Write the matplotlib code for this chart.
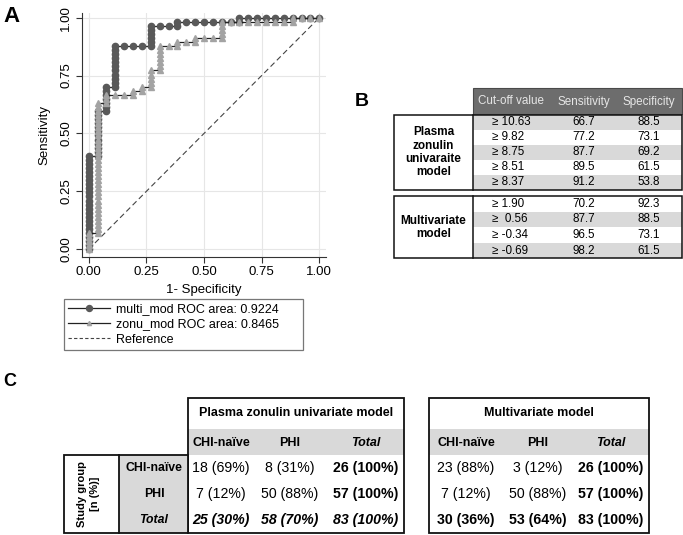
import numpy as np
import matplotlib
matplotlib.use("Agg")
import matplotlib.pyplot as plt
from matplotlib.lines import Line2D
from matplotlib.patches import Rectangle
from matplotlib.ticker import FormatStrFormatter

plt.rcParams["font.family"] = ["Liberation Sans", "DejaVu Sans"]

# ---- panel A: ROC points, true-positive counts per false-positive count ----
n_neg, n_pos = 26, 57
multi_tp_cols = [
    [0, 1, 2, 3, 4, 5, 6, 7, 8, 9, 10, 11, 12, 13, 14, 15, 16, 17, 18, 19, 20, 21, 22, 23],
    [23, 24, 25, 26, 27, 28, 29, 30, 31, 32, 33, 34],
    [34, 35, 36, 37, 38, 39, 40],
    [40, 41, 42, 43, 44, 45, 46, 47, 48, 49, 50],
    [50], [50], [50],
    [50, 51, 52, 53, 54, 55],
    [55], [55],
    [55, 56],
    [56], [56], [56], [56], [56], [56],
    [56, 57],
    [57], [57], [57], [57], [57], [57], [57], [57], [57],
]
zonu_tp_cols = [
    [0, 1, 2, 3, 4],
    [4, 5, 6, 7, 8, 9, 10, 11, 12, 13, 14, 15, 16, 17, 18, 19, 20, 21, 22, 23, 24,
     25, 26, 27, 28, 29, 30, 31, 32, 33, 34, 35, 36],
    [36, 37, 38],
    [38], [38],
    [38, 39],
    [39, 40],
    [40, 41, 42, 43, 44],
    [44, 45, 46, 47, 48, 49, 50],
    [50],
    [50, 51],
    [51],
    [51, 52],
    [52], [52],
    [52, 53, 54, 55, 56],
    [56], [56], [56], [56], [56], [56], [56],
    [56, 57],
    [57], [57], [57],
]
roc_labels = ["multi_mod ROC area: 0.9224", "zonu_mod ROC area: 0.8465", "Reference"]
roc_ticks = [0.0, 0.25, 0.5, 0.75, 1.0]

# ---- panel B: cut-offs ----
b_header = ["Cut-off value", "Sensitivity", "Specificity"]
b_zonu_label = "Plasma\nzonulin\nunivaraite\nmodel"
b_zonu_cut = ["\u2265 10.63", "\u2265 9.82", "\u2265 8.75", "\u2265 8.51", "\u2265 8.37"]
b_zonu_sens = [66.7, 77.2, 87.7, 89.5, 91.2]
b_zonu_spec = [88.5, 73.1, 69.2, 61.5, 53.8]
b_multi_label = "Multivariate\nmodel"
b_multi_cut = ["\u2265 1.90", "\u2265  0.56", "\u2265 -0.34", "\u2265 -0.69"]
b_multi_sens = [70.2, 87.7, 96.5, 98.2]
b_multi_spec = [92.3, 88.5, 73.1, 61.5]

# ---- panel C: classification tables ----
c_groups = ["CHI-na\u00efve", "PHI", "Total"]
c_titles = ["Plasma zonulin univariate model", "Multivariate model"]
c_zonu_counts = [[18, 8], [7, 50]]
c_multi_counts = [[23, 3], [7, 50]]
c_side_label = ["Study group", "[n (%)]"]

DARK = "#595959"
LIGHT = "#a3a3a3"
SHADE = "#d9d9d9"


def roc_points(cols):
    fp = [i for i, c in enumerate(cols) for _ in c]
    tp = [v for c in cols for v in c]
    return np.array(fp) / n_neg, np.array(tp) / n_pos


fig = plt.figure(figsize=(6.83, 5.35), dpi=100)

# overlay in pixel coordinates for tables and panel letters
tab = fig.add_axes([0, 0, 1, 1])
tab.set_xlim(0, 683)
tab.set_ylim(535, 0)
tab.axis("off")

# ---------------- A ----------------
ax = fig.add_axes([82 / 683, 1 - 256.7 / 535, (326 - 82) / 683, (256.7 - 13) / 535])
xm, ym = roc_points(multi_tp_cols)
xz, yz = roc_points(zonu_tp_cols)
ax.plot([0, 1], [0, 1], color="#444444", lw=0.8, ls=(0, (5, 3)), zorder=2)
ax.plot(xm, ym, color="#222222", lw=0.9, marker="o", ms=4.5,
        mfc=DARK, mec=DARK, zorder=3)
ax.plot(xz, yz, color="#222222", lw=0.9, marker="^", ms=3.8,
        mfc=LIGHT, mec=LIGHT, zorder=4)
ax.set_xlim(-0.029, 1.029)
ax.set_ylim(-0.032, 1.02)
ax.set_xticks(roc_ticks)
ax.set_yticks(roc_ticks)
ax.xaxis.set_major_formatter(FormatStrFormatter("%.2f"))
ax.yaxis.set_major_formatter(FormatStrFormatter("%.2f"))
for lab in ax.get_yticklabels():
    lab.set_rotation(90)
    lab.set_va("center")
ax.tick_params(direction="out", length=4, width=0.8, color="#333333",
               labelsize=9.5, pad=3)
for s in ["top", "right"]:
    ax.spines[s].set_visible(False)
for s in ["left", "bottom"]:
    ax.spines[s].set_color("#333333")
    ax.spines[s].set_linewidth(0.8)
ax.grid(True, color="#e6e6e6", lw=0.8)
ax.set_axisbelow(True)
ax.set_xlabel("1- Specificity", fontsize=9.5, labelpad=4)
ax.set_ylabel("Sensitivity", fontsize=9.5, labelpad=7)

handles = [
    Line2D([], [], color="#222222", lw=0.9, marker="o", ms=4.3, mfc=DARK, mec=DARK),
    Line2D([], [], color="#222222", lw=0.9, marker="^", ms=3.0, mfc=LIGHT, mec=LIGHT),
    Line2D([], [], color="#444444", lw=0.8, ls=(0, (3, 2))),
]
leg = fig.legend(handles, roc_labels, loc="upper left", mode="expand",
                 bbox_to_anchor=(64 / 683, 1 - 354 / 535, 239 / 683, 55 / 535),
                 fontsize=9, frameon=True, fancybox=False, edgecolor="#555555",
                 handlelength=3.3, handletextpad=0.5, labelspacing=0.25,
                 borderpad=0.35, borderaxespad=0, numpoints=1)
leg.get_frame().set_linewidth(0.9)

# ---------------- B ----------------
bx0, bx1, bxl = 394, 682, 473
b_cols_x = [492, 584, 649]
tab.add_patch(Rectangle((bxl, 88), bx1 - bxl, 26, fc="#6d6d6d", ec="#4a4a4a", lw=0.8))
for i, h in enumerate(b_header):
    tab.text(b_cols_x[i] + (19 if i == 0 else 0), 101.5, h, ha="center", va="center",
             fontsize=8.4, color="#e6e6e6")


def b_block(y0, row_h, label, cuts, sens, spec, shade_first):
    n = len(cuts)
    for r in range(n):
        yc = y0 + row_h * (r + 0.5)
        if (r % 2 == 0) == shade_first:
            tab.add_patch(Rectangle((bxl, y0 + row_h * r), bx1 - bxl, row_h,
                                    fc=SHADE, ec="none"))
        tab.text(b_cols_x[0], yc, cuts[r], ha="left", va="center", fontsize=8.4)
        tab.text(b_cols_x[1], yc, f"{sens[r]:.1f}", ha="center", va="center", fontsize=8.4)
        tab.text(b_cols_x[2], yc, f"{spec[r]:.1f}", ha="center", va="center", fontsize=8.4)
    tab.add_patch(Rectangle((bx0, y0), bx1 - bx0, row_h * n, fc="none", ec="#111111", lw=1.1))
    tab.plot([bxl, bxl], [y0, y0 + row_h * n], color="#111111", lw=1.1)
    tab.text((bx0 + bxl) / 2, y0 + row_h * n / 2, label, ha="center", va="center",
             fontsize=8.5, fontweight="bold", linespacing=1.15)


b_block(114.5, 15.1, b_zonu_label, b_zonu_cut, b_zonu_sens, b_zonu_spec, True)
b_block(196, 15.6, b_multi_label, b_multi_cut, b_multi_sens, b_multi_spec, False)

# ---------------- C ----------------
ty0, ty1, ty2 = 398, 429, 455
row_h = 26
c_bottom = ty2 + 3 * row_h


def c_block(x0, x1, cols_x, title, counts, total_italic):
    tab.add_patch(Rectangle((x0, ty1), x1 - x0, ty2 - ty1, fc=SHADE, ec="none"))
    tab.add_patch(Rectangle((x0, ty0), x1 - x0, c_bottom - ty0, fc="none", ec="#111111", lw=1.3))
    tab.text((x0 + x1) / 2, (ty0 + ty1) / 2, title, ha="center", va="center",
             fontsize=9, fontweight="bold")
    for j, g in enumerate(c_groups):
        tab.text(cols_x[j], (ty1 + ty2) / 2 + 1, g, ha="center", va="center", fontsize=9,
                 fontweight="bold", fontstyle="italic" if g == "Total" else "normal")
    col_tot = [counts[0][0] + counts[1][0], counts[0][1] + counts[1][1]]
    grand = sum(col_tot)
    for r in range(2):
        rt = sum(counts[r])
        yc = ty2 + row_h * (r + 0.5)
        for j in range(2):
            tab.text(cols_x[j], yc, f"{counts[r][j]} ({counts[r][j] / rt * 100:.0f}%)",
                     ha="center", va="center", fontsize=10.2)
        tab.text(cols_x[2], yc, f"{rt} (100%)", ha="center", va="center",
                 fontsize=10.2, fontweight="bold")
    yc = ty2 + row_h * 2.5
    style = "italic" if total_italic else "normal"
    for j in range(2):
        tab.text(cols_x[j], yc, f"{col_tot[j]} ({col_tot[j] / grand * 100:.0f}%)",
                 ha="center", va="center", fontsize=10.2, fontweight="bold", fontstyle=style)
    tab.text(cols_x[2], yc, f"{grand} (100%)", ha="center", va="center",
             fontsize=10.2, fontweight="bold", fontstyle=style)


c_block(188, 404, [221, 290, 366], c_titles[0], c_zonu_counts, True)
c_block(429, 649, [466, 538, 611], c_titles[1], c_multi_counts, False)

# row header block
tab.add_patch(Rectangle((119, ty2), 188 - 119, c_bottom - ty2, fc=SHADE, ec="none"))
tab.add_patch(Rectangle((64, ty2), 188 - 64, c_bottom - ty2, fc="none", ec="#111111", lw=1.3))
tab.plot([119, 119], [ty2, c_bottom], color="#111111", lw=1.3)
for k, t in enumerate(c_side_label):
    tab.text(82 + 13 * k, (ty2 + c_bottom) / 2, t, ha="center", va="center",
             rotation=90, fontsize=8, fontweight="bold")
for r, g in enumerate(c_groups):
    tab.text(154, ty2 + row_h * (r + 0.5), g, ha="center", va="center", fontsize=8.8,
             fontweight="bold", fontstyle="italic" if g == "Total" else "normal")

# panel letters
tab.text(3, 17, "A", fontsize=16, fontweight="bold", va="center", ha="left")
tab.text(355, 101, "B", fontsize=14, fontweight="bold", va="center", ha="left")
tab.text(3, 381, "C", fontsize=13, fontweight="bold", va="center", ha="left")

fig.savefig("out.png", dpi=100)
